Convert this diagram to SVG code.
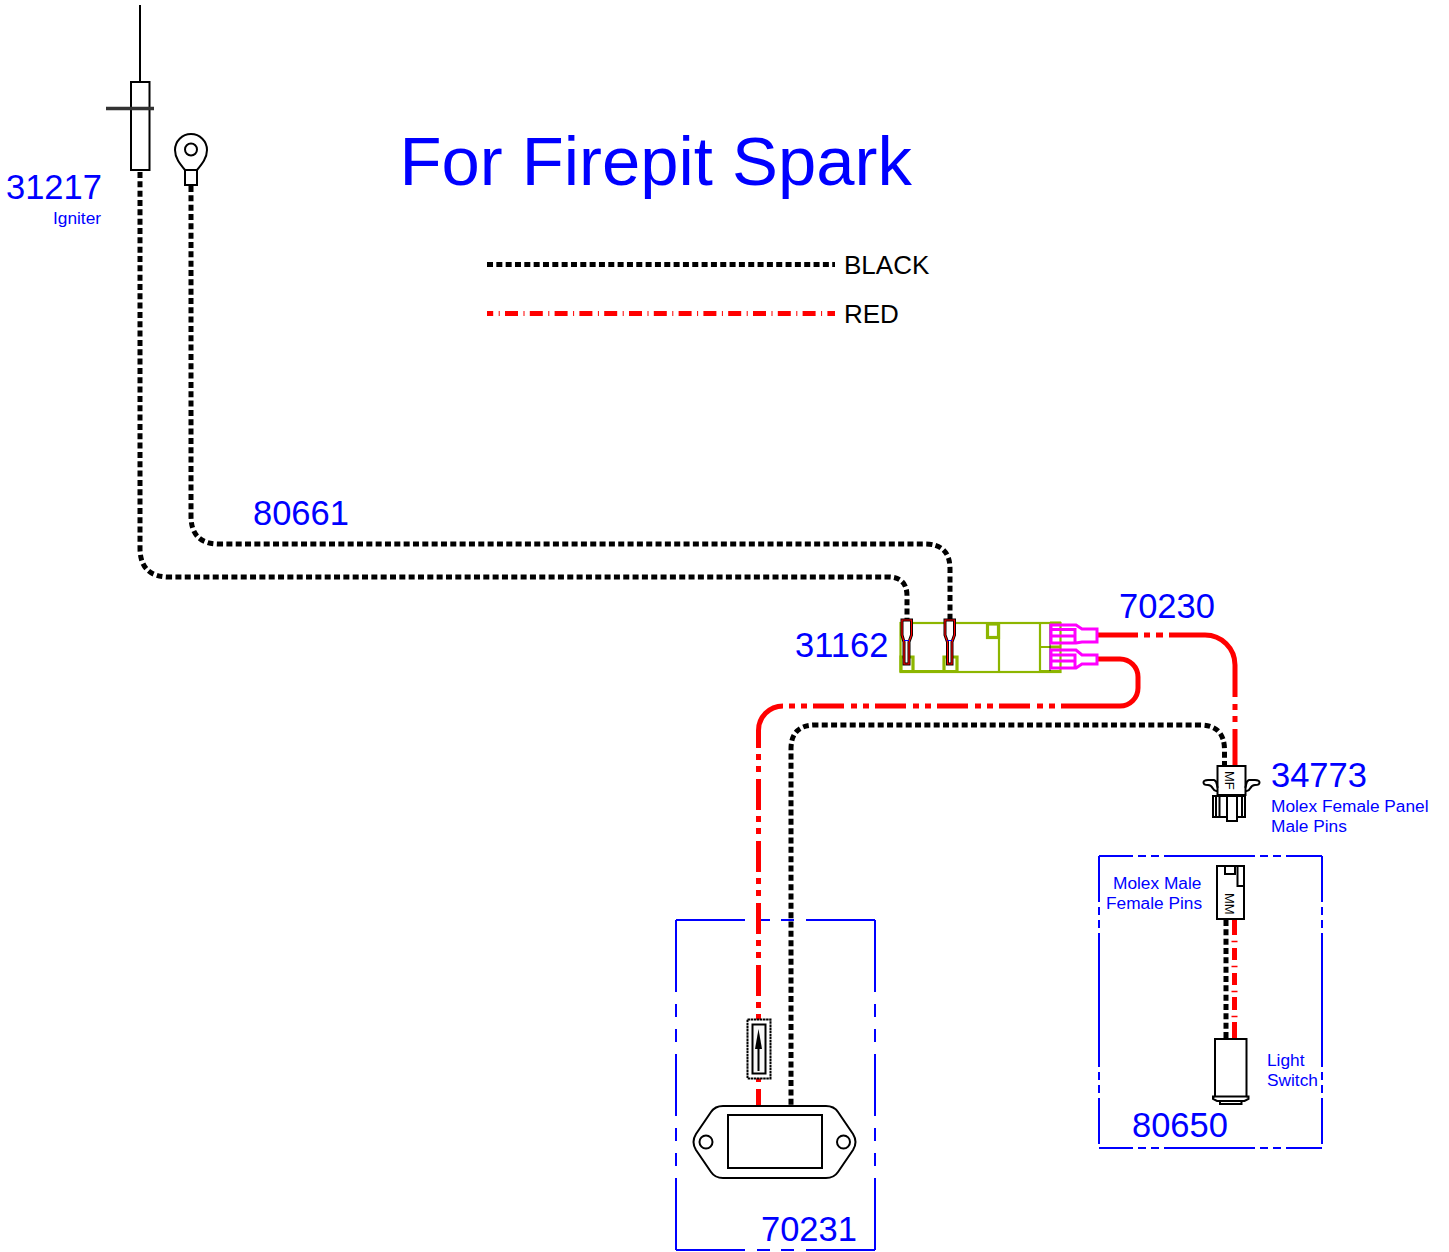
<svg xmlns="http://www.w3.org/2000/svg" width="1449" height="1252" viewBox="0 0 1449 1252">
<style>
.bg{fill:#fff}
text{font-family:"Liberation Sans",Arial,sans-serif;fill:#0000ff}
.big{font-size:34.500px}
.sm{font-size:17.300px}
.k{font-size:26px;fill:#000}
.blk{fill:none;stroke:#000;stroke-width:5;stroke-dasharray:6 3.330}
.red{fill:none;stroke:#f00;stroke-width:5;stroke-dasharray:31 6 6 6 6 7}
.sol{fill:none;stroke:#f00;stroke-width:5}
.o{fill:#fff;stroke:#000;stroke-width:2}
.n{fill:none;stroke:#000;stroke-width:2}
.bx{fill:none;stroke:#0000ff;stroke-width:2}
.g{fill:none;stroke:#8db600;stroke-width:2.200}
.gt{fill:none;stroke:#8db600;stroke-width:3.200}
.m{fill:none;stroke:#ff00ff;stroke-width:3}
.mf{font-family:"Liberation Sans",Arial,sans-serif;font-size:13px;fill:#000}
</style>
<rect class="bg" width="1449" height="1252"/>
<g id="frame-70231">
<path class="bx" style="stroke-dasharray:69 12 13 11 13 12 69" d="M676 920H875"/>
<path class="bx" style="stroke-dasharray:69 12 13 11 13 12 69" d="M676 1250H875"/>
<path class="bx" style="stroke-dasharray:72 12 13 12 13 12 62 12 13 12 13 12 74" d="M676 920V1250"/>
<path class="bx" style="stroke-dasharray:72 12 13 12 13 12 62 12 13 12 13 12 74" d="M875 920V1250"/>
</g>
<g id="frame-80650">
<path class="bx" style="stroke-dasharray:34 5 8 5 8 5 91 5 8 5 8 5 36" d="M1099 856H1322"/>
<path class="bx" style="stroke-dasharray:34 5 8 5 8 5 91 5 8 5 8 5 36" d="M1099 1148H1322"/>
<path class="bx" style="stroke-dasharray:46 5 8 5 8 5 134 5 8 5 8 5 46" d="M1099 856V1148"/>
<path class="bx" style="stroke-dasharray:46 5 8 5 8 5 134 5 8 5 8 5 46" d="M1322 856V1148"/>
</g>
<g id="connectors">
<path class="blk" d="M140 172V548Q140 577 169 577H888Q907 577 907 596V620"/>
<path class="blk" d="M191 186V516Q191 544 219 544H925Q950 544 950 569V620"/>
<path class="sol" d="M1097 635H1138"/>
<path class="sol" d="M1144 635H1150M1156 635H1163"/>
<path class="sol" d="M1169 635H1205A30 30 0 0 1 1235 665V697"/>
<path class="sol" d="M1235 704V710M1235 716V722M1235 729V767"/>
<path class="sol" d="M1097 659H1120A18 18 0 0 1 1138 677V688A18 18 0 0 1 1120 706H1092"/>
<path class="red" d="M1092 706H783"/>
<path class="sol" d="M783 706A24.500 24.500 0 0 0 758.500 731"/>
<path class="red" style="stroke-dashoffset:14" d="M758.500 731V1105"/>
<path class="blk" d="M1224.500 767V750Q1224.500 725 1200 725H815Q791 725 791 749V1105"/>
<path class="blk" d="M1226 920V1040"/>
<path class="sol" d="M1234.500 918V935M1234.500 948V960M1234.500 973V985M1234.500 997V1010M1234.500 1022V1040"/>
<path class="sol" style="stroke-width:1.500" d="M1231.500 941.500H1237.500M1231.500 966.500H1237.500M1231.500 991.500H1237.500M1231.500 1016.500H1237.500"/>
<path class="blk" d="M487 264.500H835"/>
<path class="sol" style="stroke-dasharray:13 5.500 1 5.300;stroke-dashoffset:6.800" d="M487 313.500H835"/>
</g>
<g id="title"><text x="399.500" y="185" style="font-size:68.800px">For Firepit Spark</text></g>
<g id="legend"><text class="k" x="844" y="274">BLACK</text><text class="k" x="844" y="323">RED</text></g>
<g id="igniter-31217">
<path class="n" d="M140 5V82"/>
<rect class="o" x="131" y="82" width="18.500" height="88"/>
<path d="M106 108.500H154" stroke="#333" stroke-width="3.500" fill="none"/>
<text class="big" x="6" y="199">31217</text>
<text class="sm" x="53" y="224">Igniter</text>
</g>
<g id="ring-terminal">
<path class="o" d="M185 170C180 164 175 158 175 150A16 16 0 0 1 207 150C207 158 202 164 197 170V185H185Z"/>
<path class="n" d="M185 170H197"/>
<circle class="n" cx="191" cy="149.500" r="6"/>
</g>
<g id="label-80661"><text class="big" x="253" y="525">80661</text></g>
<g id="block-31162">
<text class="big" x="795" y="657">31162</text>
<rect class="g" x="900.500" y="623" width="160" height="49"/>
<path class="g" d="M999 623V672M1040 623V672M1040 647H1060"/>
<rect class="gt" x="987.500" y="624" width="11" height="13.500"/>
<path class="gt" d="M901 672V657H913V672M944 672V657H957V672M900 671.500H957M1040 671.500H1061M1050 623H1061M1050 647H1061"/>
<path d="M1050 624V671" stroke="#222" stroke-width="1" fill="none"/>
<path d="M902 620H911.500V635L909 642V664H904V642L902 635Z" fill="#fff" stroke="#000" stroke-width="3"/>
<path d="M902 620H911.500V635L909 642V664H904V642L902 635Z" fill="none" stroke="#f00" stroke-width="1.200"/>
<path d="M945 620H954.500V635L952 642V664H947.500V642L945 635Z" fill="#fff" stroke="#000" stroke-width="3"/>
<path d="M945 620H954.500V635L952 642V664H947.500V642L945 635Z" fill="none" stroke="#f00" stroke-width="1.200"/>
<path d="M904 640.500H909M947.500 640.500H952" stroke="#00f" stroke-width="1" fill="none"/>
<path class="m" d="M1051 625H1076L1082 629H1097V642H1082L1076 643H1051ZM1051 629.500H1075V636H1051M1075 636V643"/>
<path class="m" d="M1051 650H1076L1082 655H1097V664H1082L1076 668H1051ZM1051 655H1075V661H1051M1075 661V668"/>
</g>
<g id="label-70230"><text class="big" x="1119" y="618">70230</text></g>
<g id="connector-34773">
<rect class="o" x="1217.500" y="766" width="28" height="29"/>
<text class="mf" transform="translate(1225 771) rotate(90)">MF</text>
<path class="n" d="M1217 791C1212 792 1214 785 1208 785C1202 785 1202 780 1208 780H1214C1218 781 1216 786 1218 788M1246 791C1251 792 1249 785 1255 785C1261 785 1261 780 1255 780H1249C1245 781 1247 786 1245 788"/>
<path class="n" d="M1213 796H1245V817H1237V821H1227V817H1213ZM1216 796V817M1219.500 796V817M1227 796V817M1237 796V817M1242 796V817"/>
<text class="big" x="1271" y="787">34773</text>
<text class="sm" x="1271" y="812">Molex Female Panel</text>
<text class="sm" x="1271" y="832">Male Pins</text>
</g>
<g id="switch-80650">
<rect class="o" x="1217" y="866" width="27" height="53"/>
<path class="n" d="M1225 866V874H1235V866M1237.500 866V886H1244"/>
<text class="mf" transform="translate(1225 893) rotate(90)">MM</text>
<text class="sm" x="1113" y="889">Molex Male</text>
<text class="sm" x="1106" y="909">Female Pins</text>
<path class="o" d="M1215 1039H1246.500V1096.500H1215Z"/>
<path class="n" d="M1215 1096.500H1213V1099L1217 1101H1244.500L1248.500 1099V1096.500H1246.500M1220 1101V1104H1241.500V1101"/>
<text class="sm" x="1267" y="1066">Light</text>
<text class="sm" x="1267" y="1086">Switch</text>
<text class="big" x="1132" y="1137">80650</text>
</g>
<g id="module-70231">
<path class="o" d="M723 1106H826Q834 1106 838 1112L853 1134Q858 1142 853 1150L838 1172Q834 1178 826 1178H723Q715 1178 711 1172L696 1150Q691 1142 696 1134L711 1112Q715 1106 723 1106Z"/>
<rect class="n" x="728" y="1115" width="94" height="53"/>
<circle class="n" cx="706" cy="1142" r="6.500"/><circle class="n" cx="843.500" cy="1142" r="6.500"/>
<rect class="o" x="747.500" y="1019.500" width="23" height="59" stroke-dasharray="2.500 .6"/>
<rect class="o" x="752.500" y="1024.500" width="13" height="49" style="fill:#f8f8f8"/>
<path d="M758.500 1071V1045" class="n"/>
<path d="M758.500 1029L755 1049H762Z" fill="#000"/>
<text class="big" x="761" y="1241">70231</text>
</g>
</svg>
